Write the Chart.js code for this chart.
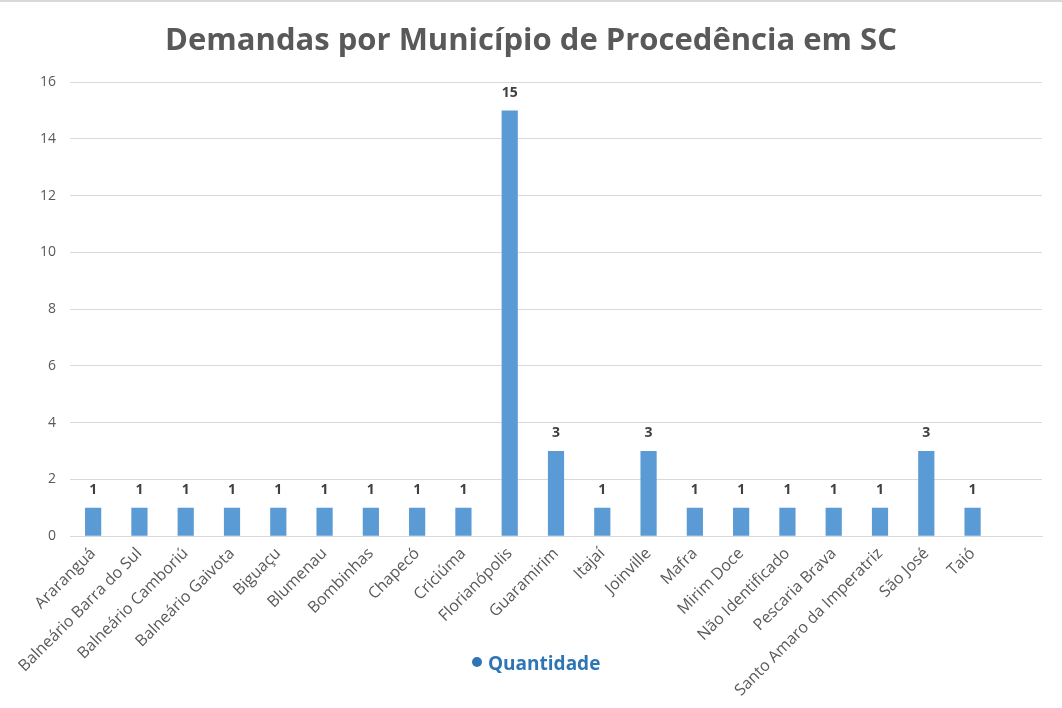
<!DOCTYPE html>
<html>
<head>
<meta charset="utf-8">
<title>Demandas por Município de Procedência em SC</title>
<script src="https://cdn.jsdelivr.net/npm/chart.js@4"></script>
<style>
  html, body { margin: 0; padding: 0; background: #fff; }
  #wrap { position: relative; width: 1062px; height: 708px; border-top: 2px solid #d9d9d9; box-sizing: border-box; }
  #legend { position: absolute; left: 472px; top: 648px; font: bold 19px "Open Sans", sans-serif; color: #2e75b6; }
  #legend span { display: inline-block; width: 10px; height: 10px; border-radius: 50%; background: #2e75b6; margin-right: 6px; vertical-align: 3px; }
</style>
</head>
<body>
<div id="wrap">
  <canvas id="chart" width="1062" height="706"></canvas>
  <div id="legend"><span></span>Quantidade</div>
</div>
<script>
// Chart data
const municipios = ['Araranguá', 'Balneário Barra do Sul', 'Balneário Camboriú', 'Balneário Gaivota',
    'Biguaçu', 'Blumenau', 'Bombinhas', 'Chapecó', 'Criciúma', 'Florianópolis', 'Guaramirim',
    'Itajaí', 'Joinville', 'Mafra', 'Mirim Doce', 'Não Identificado', 'Pescaria Brava',
    'Santo Amaro da Imperatriz', 'São José', 'Taió', ''];
const quantidade = [1, 1, 1, 1, 1, 1, 1, 1, 1, 15, 3, 1, 3, 1, 1, 1, 1, 1, 3, 1, null];
const yTicks = [0, 2, 4, 6, 8, 10, 12, 14, 16];

// draws the value above each bar
const barLabels = {
    id: 'barLabels',
    afterDatasetsDraw(chart) {
        const ctx = chart.ctx;
        const meta = chart.getDatasetMeta(0);
        ctx.save();
        ctx.font = 'bold 14px "Open Sans", sans-serif';
        ctx.fillStyle = '#404040';
        ctx.textAlign = 'center';
        ctx.textBaseline = 'bottom';
        meta.data.forEach((bar, i) => {
            const v = quantidade[i];
            if (v === null) return;
            ctx.fillText(v, bar.x, bar.y - 11);
        });
        ctx.restore();
    }
};

new Chart(document.getElementById('chart').getContext('2d'), {
    type: 'bar',
    data: {
        labels: municipios,
        datasets: [{
            label: 'Quantidade',
            data: quantidade,
            backgroundColor: '#5b9bd5',
            categoryPercentage: 1,
            barPercentage: 0.35
        }]
    },
    options: {
        responsive: false,
        animation: false,
        layout: { padding: { left: 20, right: 20, top: 0, bottom: 0 } },
        scales: {
            x: {
                grid: { display: false, drawTicks: false },
                border: { color: '#d9d9d9', width: 1 },
                ticks: {
                    autoSkip: false,
                    maxRotation: 45,
                    minRotation: 45,
                    padding: 8,
                    color: '#595959',
                    font: { family: 'Open Sans', size: 16 }
                }
            },
            y: {
                min: 0,
                max: 16,
                afterBuildTicks: scale => { scale.ticks = yTicks.map(v => ({ value: v })); },
                afterFit: scale => { scale.width = 50; },
                grid: { color: '#d9d9d9', drawTicks: false },
                border: { display: false },
                ticks: {
                    padding: 14,
                    color: '#595959',
                    font: { family: 'Open Sans', size: 14 }
                }
            }
        },
        plugins: {
            legend: { display: false },
            tooltip: { enabled: false },
            title: {
                display: true,
                text: 'Demandas por Município de Procedência em SC',
                color: '#595959',
                font: { family: 'Open Sans', size: 31, weight: 'bold' },
                padding: { top: 21, bottom: 22 }
            }
        }
    },
    plugins: [barLabels]
});
</script>
</body>
</html>
